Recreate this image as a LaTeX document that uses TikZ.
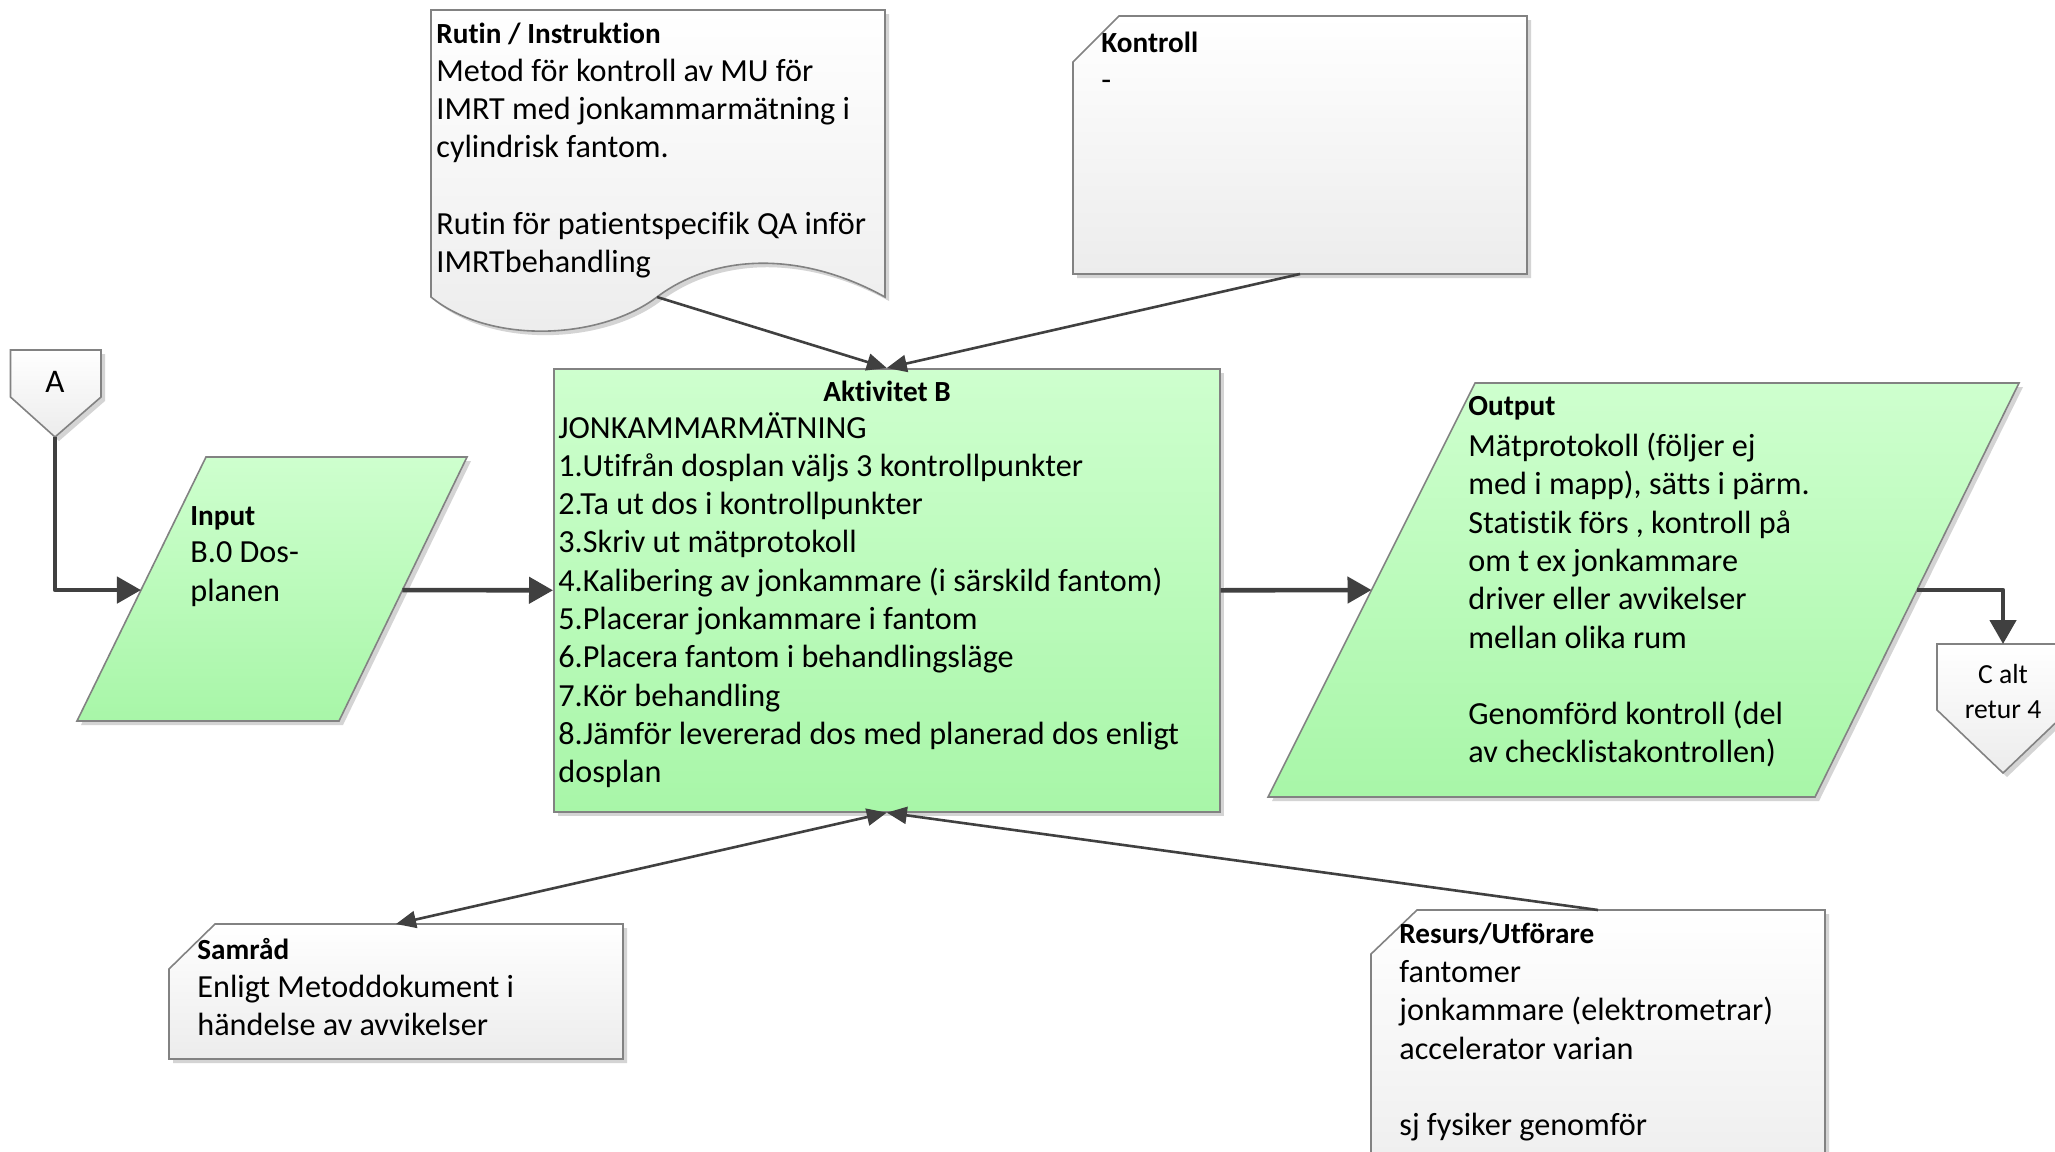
\documentclass[tikz,border=0pt]{standalone}
\usepackage{fontspec}
\setmainfont{Carlito}[Ligatures=NoCommon]
\usetikzlibrary{arrows.meta,shadows,calc}

\definecolor{edge}{RGB}{130,130,130}
\definecolor{wire}{RGB}{64,64,64}
\definecolor{greentop}{RGB}{206,255,206}
\definecolor{greenbot}{RGB}{168,246,168}
\definecolor{graybot}{RGB}{236,236,236}
\definecolor{shade}{RGB}{212,212,212}

\newcommand{\bodyfont}{\fontsize{16.1}{19.15}\selectfont}
\newcommand{\headfont}{\fontsize{14.6}{19.15}\selectfont\bfseries}

\tikzset{
  boxshadow/.style={drop shadow={shadow xshift=2pt, shadow yshift=-2pt, fill=shade, opacity=1}},
  greenshape/.style={draw=edge, line width=0.8pt, top color=greentop, bottom color=greenbot, boxshadow},
  grayshape/.style={draw=edge, line width=0.8pt, top color=white, bottom color=graybot, boxshadow},
  txt/.style={inner sep=0pt, anchor=base west, font=\bodyfont},
  head/.style={inner sep=0pt, anchor=base west, font=\headfont},
  thinwire/.style={draw=wire, line width=1.3pt, -{Triangle[length=10pt,width=8.5pt]}},
  thinboth/.style={draw=wire, line width=1.3pt, {Triangle[length=10pt,width=8.5pt]}-{Triangle[length=10pt,width=8.5pt]}},
  thickwire/.style={draw=wire, line width=2.3pt, line join=round, -{Triangle[length=12pt,width=13pt]}},
}

\begin{document}
\begin{tikzpicture}[x=0.5pt,y=-0.5pt]
  \fill[white] (0,0) rectangle (2055,1151);
  \useasboundingbox (0,0) rectangle (2055,1151);

  % off-page connector A
  \path[grayshape] (10.5,350) -- (101,350) -- (101,397) -- (55,437) -- (10.5,397) -- cycle;
  \coordinate (a-tip) at (55,437);
  \node[inner sep=0pt, anchor=base, font=\fontsize{16.5}{19}\selectfont] (a-lbl) at (55,392.7) {A};

  % input parallelogram
  \coordinate (in-tl) at (206,457);
  \coordinate (in-tr) at (467,457);
  \coordinate (in-br) at (339,721);
  \coordinate (in-bl) at (77,721);
  \path[greenshape] (in-tl) -- (in-tr) -- (in-br) -- (in-bl) -- cycle;
  \coordinate (in-w) at ($(in-bl)!0.496!(in-tl)$);
  \coordinate (in-e) at ($(in-br)!0.496!(in-tr)$);
  \node[head] (in-head) at (190,525) {Input};
  \node[txt] (in-body) at (190,562.7) {\begin{tabular}[t]{@{}l@{}}B.0 Dos-\\planen\end{tabular}};

  % activity box
  \node[greenshape, inner sep=0pt, minimum width=333pt, minimum height=221.5pt, anchor=north west] (akt) at (553,368) {};
  \node[inner sep=0pt, anchor=base, font=\headfont] (akt-head) at (887,401) {Aktivitet B};
  \node[txt] (akt-body) at (558,438) {\begin{tabular}[t]{@{}l@{}}
    JONKAMMARMÄTNING\\
    1.Utifrån dosplan väljs 3 kontrollpunkter\\
    2.Ta ut dos i kontrollpunkter\\
    3.Skriv ut mätprotokoll\\
    4.Kalibering av jonkammare (i särskild fantom)\\
    5.Placerar jonkammare i fantom\\
    6.Placera fantom i behandlingsläge\\
    7.Kör behandling\\
    8.Jämför levererad dos med planerad dos enligt\\
    dosplan\end{tabular}};

  % output parallelogram
  \coordinate (out-tl) at (1475,383);
  \coordinate (out-tr) at (2019,383);
  \coordinate (out-br) at (1815,797);
  \coordinate (out-bl) at (1268,797);
  \path[greenshape] (out-tl) -- (out-tr) -- (out-br) -- (out-bl) -- cycle;
  \coordinate (out-w) at ($(out-bl)!0.5!(out-tl)$);
  \coordinate (out-e) at ($(out-br)!0.5!(out-tr)$);
  \node[head] (out-head) at (1468,415) {Output};
  \node[txt] (out-body) at (1468,456.5) {\begin{tabular}[t]{@{}l@{}}
    Mätprotokoll (följer ej\\
    med i mapp), sätts i pärm.\\
    Statistik förs , kontroll på\\
    om t ex jonkammare\\
    driver eller avvikelser\\
    mellan olika rum\\
    \\
    Genomförd kontroll (del\\
    av checklistakontrollen)\end{tabular}};

  % off-page connector C
  \path[grayshape] (1937,644) -- (2069,644) -- (2069,710) -- (2003,773) -- (1937,710) -- cycle;
  \coordinate (c-top) at (2003,644);
  \node[inner sep=0pt, anchor=base, font=\fontsize{13.8}{17.5}\selectfont] (c-lbl) at (2003,683)
    {\begin{tabular}[t]{@{}c@{}}C alt\\retur 4\end{tabular}};

  % routine document
  \path[grayshape] (431,10) -- (885,10) -- (885,297)
    .. controls (800,250) and (714,254) .. (657,297)
    .. controls (600,340) and (490,345) .. (431,297) -- cycle;
  \coordinate (rut-s) at (657,297);
  \node[head] (rut-head) at (436,43.5) {Rutin / Instruktion};
  \node[txt] (rut-body) at (436,81) {\begin{tabular}[t]{@{}l@{}}
    Metod för kontroll av MU för\\
    IMRT med jonkammarmätning i\\
    cylindrisk fantom.\\
    \\
    Rutin för patientspecifik QA inför\\
    IMRTbehandling\end{tabular}};

  % control note
  \path[grayshape] (1119,16) -- (1527,16) -- (1527,274) -- (1073,274) -- (1073,62) -- cycle;
  \coordinate (ko-s) at (1300,274);
  \node[head] (ko-head) at (1101,52.5) {Kontroll};
  \node[txt] (ko-body) at (1101,90.5) {-};

  % consultation note
  \path[grayshape] (215,924) -- (623,924) -- (623,1059) -- (169,1059) -- (169,969) -- cycle;
  \coordinate (sam-n) at (396,924);
  \node[head] (sam-head) at (197,959) {Samråd};
  \node[txt] (sam-body) at (197,997.5) {\begin{tabular}[t]{@{}l@{}}
    Enligt Metoddokument i\\
    händelse av avvikelser\end{tabular}};

  % resources note
  \path[grayshape] (1417,910) -- (1825,910) -- (1825,1200) -- (1371,1200) -- (1371,954) -- cycle;
  \coordinate (res-n) at (1598,910);
  \node[head] (res-head) at (1399,943.5) {Resurs/Utförare};
  \node[txt] (res-body) at (1399,982.5) {\begin{tabular}[t]{@{}l@{}}
    fantomer\\
    jonkammare (elektrometrar)\\
    accelerator varian\\
    \\
    sj fysiker genomför\end{tabular}};

  % main flow
  \draw[thickwire] (a-tip) |- (in-w);
  \draw[thickwire] (in-e) -- (akt.west);
  \draw[thickwire] (akt.east) -- (out-w);
  \draw[thickwire] (out-e) -| (c-top);

  % supporting links
  \draw[thinwire] (rut-s) -- (akt.north);
  \draw[thinwire] (ko-s) -- (akt.north);
  \draw[thinboth] (sam-n) -- (akt.south);
  \draw[thinwire] (res-n) -- (akt.south);
\end{tikzpicture}
\end{document}
